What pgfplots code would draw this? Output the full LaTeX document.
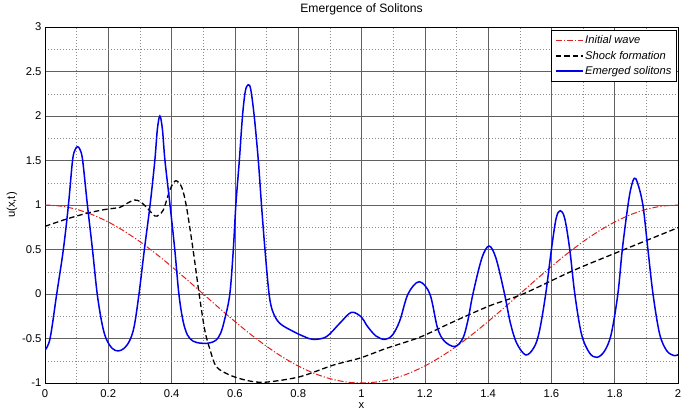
\documentclass[border=0pt]{standalone}
\usepackage{fontspec}
\setmainfont{Liberation Sans}
\usepackage{pgfplots}
\pgfplotsset{compat=1.18}
\definecolor{wavered}{RGB}{225,30,30}
\definecolor{solblue}{RGB}{0,0,235}
\begin{document}
\begin{tikzpicture}
\useasboundingbox (-45bp,-28bp) rectangle (639bp,383bp);
\begin{axis}[
  scale only axis,
  width=633bp, height=356bp,
  xmin=0, xmax=2, ymin=-1, ymax=3,
  xtick={0,0.2,...,2.01}, ytick={-1,-0.5,...,3.01},
  minor x tick num=1, minor y tick num=1,
  grid=both,
  major grid style={draw=black!62, line width=0.6bp},
  minor grid style={draw=black!45, line width=0.5bp, dash pattern=on 1bp off 2bp},
  axis line style={draw=black, line width=0.6bp},
  tick align=inside,
  major tick length=0bp, minor tick length=0bp,
  /pgf/number format/assume math mode=true,
  /pgf/number format/fixed,
  ticklabel style={font=\fontsize{11.3}{13}\selectfont},
  xticklabel style={anchor=base, yshift=-14bp},
  title={Emergence of Solitons},
  title style={font=\fontsize{12.2}{14}\selectfont, at={(axis description cs:0.5,1)}, anchor=base, yshift=8.7bp},
  xlabel={x},
  xlabel style={font=\fontsize{11.3}{13}\selectfont, at={(axis description cs:0.5,0)}, anchor=base, yshift=-25bp},
  ylabel={u(x,t)},
  ylabel style={font=\fontsize{11.3}{13}\selectfont, at={(axis description cs:-0.052,0.5)}, anchor=center, rotate=0},
  legend style={at={(0.998,0.9916)}, anchor=north east, draw=black, line width=0.6bp, fill=white,
    font=\fontsize{11.2}{13}\selectfont\itshape, row sep=-1.5bp, inner xsep=3.5bp, inner ysep=2bp,
    nodes={inner xsep=1.5bp, inner ysep=3.6bp}},
  legend cell align=left,
  legend image code/.code={\draw[#1] (0bp,0bp) -- (27bp,0bp);},
]
\addplot[color=wavered, line width=1bp, dash pattern=on 6bp off 2bp on 1.2bp off 2bp, smooth] coordinates {
(0,1) (0.05,0.9877) (0.1,0.9511) (0.15,0.8910) (0.2,0.8090) (0.25,0.7071) (0.3,0.5878) (0.35,0.4540) (0.4,0.3090) (0.45,0.1564)
(0.5,0) (0.55,-0.1564) (0.6,-0.3090) (0.65,-0.4540) (0.7,-0.5878) (0.75,-0.7071) (0.8,-0.8090) (0.85,-0.8910) (0.9,-0.9511) (0.95,-0.9877)
(1,-1) (1.05,-0.9877) (1.1,-0.9511) (1.15,-0.8910) (1.2,-0.8090) (1.25,-0.7071) (1.3,-0.5878) (1.35,-0.4540) (1.4,-0.3090) (1.45,-0.1564)
(1.5,0) (1.55,0.1564) (1.6,0.3090) (1.65,0.4540) (1.7,0.5878) (1.75,0.7071) (1.8,0.8090) (1.85,0.8910) (1.9,0.9511) (1.95,0.9877) (2,1)
};
\addlegendentry{Initial wave}
\addplot[color=black, line width=1.3bp, dash pattern=on 5.5bp off 3bp, smooth, tension=0.5] coordinates {
(0.000,0.76) (0.066,0.84) (0.132,0.907) (0.190,0.95) (0.237,0.974) (0.260,1.02) (0.282,1.056) (0.300,1.04)
(0.321,0.974) (0.347,0.876) (0.360,0.89) (0.374,0.944) (0.390,1.12) (0.400,1.213) (0.414,1.273) (0.432,1.20)
(0.447,0.98) (0.468,0.494) (0.487,0.0) (0.505,-0.41) (0.521,-0.62) (0.542,-0.82) (0.590,-0.92) (0.647,-0.978)
(0.700,-0.99) (0.805,-0.93) (0.910,-0.80) (0.995,-0.72) (1.079,-0.61) (1.184,-0.486) (1.279,-0.33) (1.403,-0.135)
(1.510,0.0) (1.668,0.262) (1.826,0.494) (2.000,0.745)
};
\addlegendentry{Shock formation}
\addplot[color=solblue, line width=1.5bp, smooth, tension=0.55] coordinates {
(0.000,-0.63) (0.016,-0.50) (0.037,0.00) (0.058,0.50) (0.074,1.00) (0.087,1.50) (0.095,1.62) (0.103,1.655)
(0.111,1.62) (0.119,1.50) (0.134,1.00) (0.150,0.50) (0.165,0.00) (0.180,-0.33) (0.193,-0.50) (0.212,-0.61) (0.231,-0.64)
(0.250,-0.61) (0.268,-0.52) (0.282,-0.36) (0.297,0.00) (0.314,0.50) (0.332,1.00) (0.347,1.50) (0.355,1.85) (0.363,2.00)
(0.371,1.85) (0.379,1.50) (0.395,1.00) (0.410,0.50) (0.423,0.00) (0.436,-0.30) (0.450,-0.46) (0.468,-0.53) (0.490,-0.552) (0.505,-0.555)
(0.522,-0.548) (0.540,-0.52) (0.555,-0.44) (0.568,-0.28) (0.584,0.00) (0.595,0.50) (0.603,1.00) (0.614,1.50) (0.624,2.00) (0.633,2.28)
(0.642,2.35) (0.650,2.30) (0.661,2.00) (0.674,1.50) (0.684,1.00) (0.695,0.50) (0.708,0.00) (0.720,-0.20)
(0.742,-0.33) (0.784,-0.42) (0.820,-0.48) (0.847,-0.51) (0.889,-0.48) (0.931,-0.33) (0.968,-0.206) (1.000,-0.26)
(1.016,-0.35) (1.045,-0.47) (1.074,-0.51) (1.098,-0.46) (1.121,-0.30) (1.147,0.00) (1.182,0.138) (1.216,0.00)
(1.240,-0.38) (1.262,-0.53) (1.295,-0.59) (1.320,-0.50) (1.336,-0.30) (1.352,0.00) (1.380,0.40) (1.403,0.539) (1.425,0.40)
(1.452,0.00) (1.470,-0.32) (1.490,-0.55) (1.519,-0.685) (1.545,-0.60) (1.562,-0.42) (1.582,0.00) (1.600,0.50) (1.615,0.85)
(1.628,0.936) (1.642,0.85) (1.658,0.50) (1.674,0.00) (1.695,-0.45) (1.720,-0.66) (1.744,-0.712) (1.768,-0.64)
(1.789,-0.45) (1.810,0.00) (1.824,0.50) (1.842,1.00) (1.852,1.20) (1.862,1.30) (1.872,1.25) (1.889,1.00)
(1.905,0.50) (1.921,0.00) (1.942,-0.45) (1.965,-0.64) (1.989,-0.693) (2.000,-0.68)
};
\addlegendentry{Emerged solitons}
\end{axis}
\end{tikzpicture}
\end{document}
